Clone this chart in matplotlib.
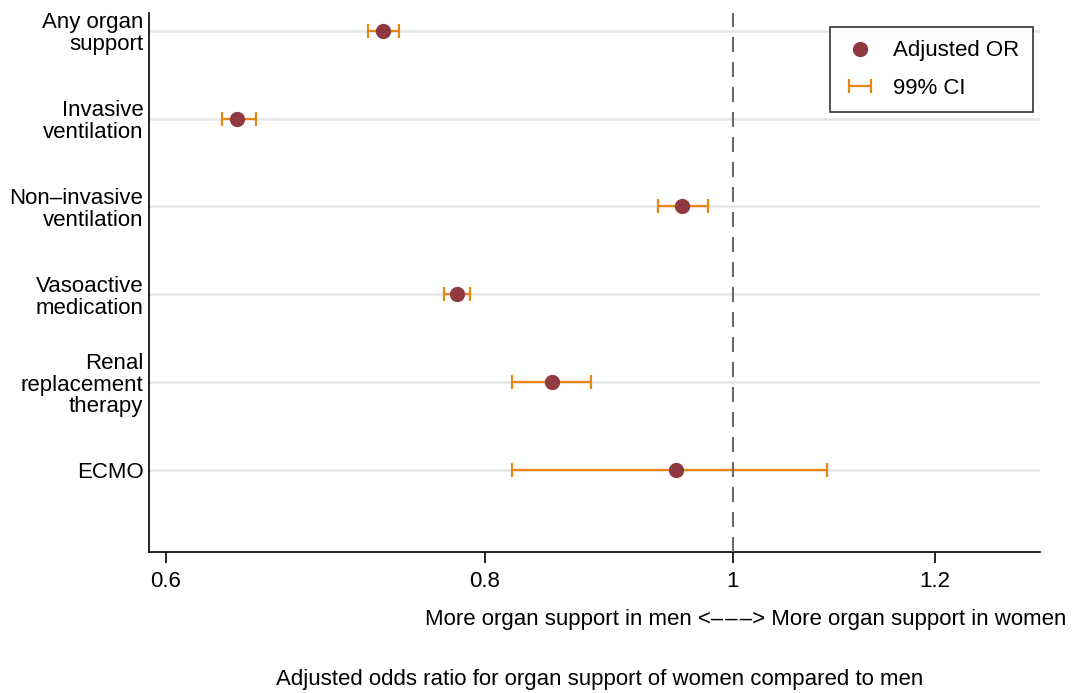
import matplotlib
matplotlib.use("Agg")
import matplotlib.pyplot as plt
from matplotlib.ticker import FixedLocator, FixedFormatter, NullLocator

plt.rcParams['font.family'] = ['Liberation Sans', 'DejaVu Sans']

outcomes = ["Any organ\nsupport", "Invasive\nventilation", "Non\u2013invasive\nventilation",
            "Vasoactive\nmedication", "Renal\nreplacement\ntherapy", "ECMO"]
odds_ratio = [0.730, 0.640, 0.955, 0.780, 0.850, 0.950]
ci_low = [0.720, 0.631, 0.935, 0.771, 0.820, 0.820]
ci_high = [0.740, 0.651, 0.978, 0.789, 0.880, 1.089]
tick_values = [0.6, 0.8, 1.0, 1.2]
tick_labels = ["0.6", "0.8", "1", "1.2"]

point_color = "#8E3A40"
ci_color = "#E8870F"
fs = 16

fig = plt.figure(figsize=(10.74, 6.93), dpi=100)
ax = fig.add_axes([149/1074, 1 - 552/693, (1040 - 149)/1074, (552 - 13)/693])

rows = list(range(len(outcomes)))
for r in rows:
    ax.axhline(r, color="#E6E6E6", lw=1.8, zorder=0)

err_lo = [o - l for o, l in zip(odds_ratio, ci_low)]
err_hi = [h - o for o, h in zip(odds_ratio, ci_high)]
ci = ax.errorbar(odds_ratio, rows, xerr=[err_lo, err_hi], fmt="none",
                 ecolor=ci_color, elinewidth=1.6, capsize=5, capthick=1.6,
                 zorder=2, label="99% CI")
pts, = ax.plot(odds_ratio, rows, "o", color=point_color, ms=10, zorder=3,
               linestyle="none", label="Adjusted OR")
ax.axvline(1.0, color="#6A6A6A", lw=1.5, dashes=(7.2, 4.8), zorder=4)

ax.set_xscale("log")
ax.set_xlim(0.591, 1.319)
ax.set_ylim(5.93, -0.2)
ax.xaxis.set_major_locator(FixedLocator(tick_values))
ax.xaxis.set_major_formatter(FixedFormatter(tick_labels))
ax.xaxis.set_minor_locator(NullLocator())
ax.set_yticks(rows)
ax.set_yticklabels(outcomes, fontsize=fs, linespacing=1.05)
ax.tick_params(axis="y", length=0, pad=4)
ax.tick_params(axis="x", length=8, width=1.2, pad=6, labelsize=fs)

for side in ("top", "right"):
    ax.spines[side].set_visible(False)
for side in ("left", "bottom"):
    ax.spines[side].set_linewidth(1.2)

leg = ax.legend(handles=[pts, ci], labels=["Adjusted OR", "99% CI"],
                loc="upper right", bbox_to_anchor=((1033 - 149)/891, 1 - 14/539),
                fontsize=fs, frameon=True, fancybox=False, edgecolor="black",
                borderpad=0.6, handlelength=1.5, handletextpad=0.75,
                labelspacing=0.75, borderaxespad=0)
leg.get_frame().set_linewidth(1.2)

fig.text(746/1074, 1 - 620/693, "More organ support in men <\u2013\u200a\u2013\u200a\u2013> More organ support in women",
         ha="center", va="center", fontsize=fs)
fig.text(600/1074, 1 - 679/693, "Adjusted odds ratio for organ support of women compared to men",
         ha="center", va="center", fontsize=fs)

fig.savefig("out.png", dpi=100)
